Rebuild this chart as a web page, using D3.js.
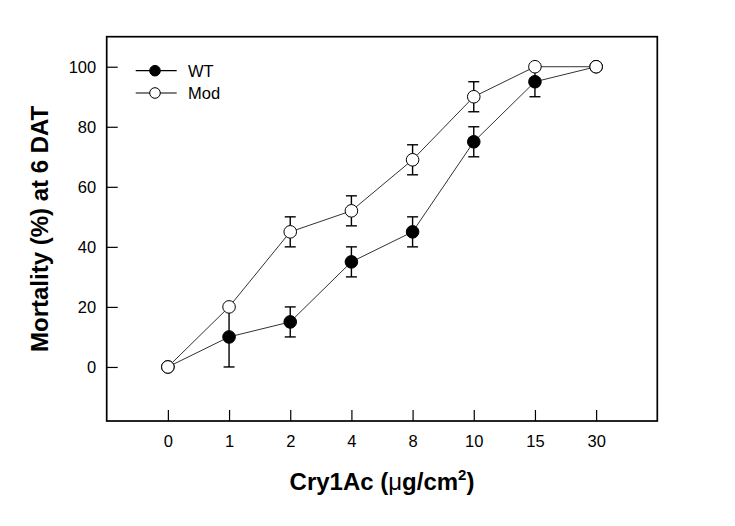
<!DOCTYPE html>
<html>
<head>
<meta charset="utf-8">
<script src="https://cdn.jsdelivr.net/npm/d3@7"></script>
<style>
  body { margin: 0; background: #fff; }
  text { font-family: "Liberation Sans", Arial, sans-serif; fill: #000; }
</style>
</head>
<body>
<div id="chart"></div>
<script>
// doses on the x axis (categorical, evenly spaced)
var doses = ["0", "1", "2", "4", "8", "10", "15", "30"];
var wt = [0, 10, 15, 35, 45, 75, 95, 100];
var wtErr = [0, 10, 5, 5, 5, 5, 5, 0];
var mod = [0, 20, 45, 52, 69, 90, 100, 100];
var modErr = [0, 0, 5, 5, 5, 5, 0, 0];
var yTicks = [0, 20, 40, 60, 80, 100];

var width = 735, height = 526;
var mLeft = 106.7, mRight = 657.3, mTop = 36.7, mBottom = 421;

var svg = d3.select("#chart").append("svg")
    .attr("width", width)
    .attr("height", height);

var x = d3.scalePoint()
    .domain(doses)
    .range([mLeft, mRight])
    .padding(1);

var y = d3.scaleLinear()
    .domain([-18, 110])
    .range([mBottom, mTop]);

// axes, ticks pointing inward
var xAxis = svg.append("g")
    .attr("transform", "translate(0," + mBottom + ")")
    .call(d3.axisBottom(x).tickSizeInner(-11).tickSizeOuter(0).tickPadding(14));

var yAxis = svg.append("g")
    .attr("transform", "translate(" + mLeft + ",0)")
    .call(d3.axisLeft(y).tickValues(yTicks).tickSizeInner(-11).tickSizeOuter(0).tickPadding(10.5));

[xAxis, yAxis].forEach(function(g) {
    g.select(".domain").remove();
    g.selectAll(".tick line").attr("stroke", "#000").attr("stroke-width", 1.2);
    g.selectAll(".tick text")
        .attr("font-family", "Liberation Sans, Arial, sans-serif")
        .attr("font-size", 16.5)
        .attr("fill", "#000");
});

// frame
svg.append("rect")
    .attr("x", mLeft).attr("y", mTop)
    .attr("width", mRight - mLeft).attr("height", mBottom - mTop)
    .attr("fill", "none")
    .attr("stroke", "#000")
    .attr("stroke-width", 1.7);

var line = d3.line()
    .x(function(d, i) { return x(doses[i]); })
    .y(function(d) { return y(d); });

function drawSeries(vals, errs, fill) {
    svg.append("path")
        .datum(vals)
        .attr("d", line)
        .attr("fill", "none")
        .attr("stroke", "#333")
        .attr("stroke-width", 1);

    var eb = svg.append("g").attr("stroke", "#000").attr("stroke-width", 1.4);
    vals.forEach(function(v, i) {
        if (!errs[i]) return;
        var cx = x(doses[i]);
        eb.append("line").attr("x1", cx).attr("x2", cx).attr("y1", y(v - errs[i])).attr("y2", y(v + errs[i]));
        [v - errs[i], v + errs[i]].forEach(function(e) {
            eb.append("line").attr("x1", cx - 5.5).attr("x2", cx + 5.5).attr("y1", y(e)).attr("y2", y(e));
        });
    });

    svg.append("g").selectAll("circle")
        .data(vals)
        .enter().append("circle")
        .attr("cx", function(d, i) { return x(doses[i]); })
        .attr("cy", function(d) { return y(d); })
        .attr("r", 6.3)
        .attr("fill", fill)
        .attr("stroke", "#000")
        .attr("stroke-width", 1);
}

drawSeries(wt, wtErr, "#000");
drawSeries(mod, modErr, "#fff");

// legend
var legend = [{name: "WT", fill: "#000", y: 70.7}, {name: "Mod", fill: "#fff", y: 93}];
legend.forEach(function(l) {
    svg.append("line")
        .attr("x1", 135.7).attr("x2", 176.7)
        .attr("y1", l.y).attr("y2", l.y)
        .attr("stroke", "#000").attr("stroke-width", 1.2);
    svg.append("circle")
        .attr("cx", 155).attr("cy", l.y).attr("r", 5.3)
        .attr("fill", l.fill).attr("stroke", "#000").attr("stroke-width", 1);
    svg.append("text")
        .attr("x", 188).attr("y", l.y)
        .attr("dy", "0.36em")
        .attr("font-size", 16.5)
        .text(l.name);
});

// axis titles
svg.append("text")
    .attr("transform", "translate(48," + ((mTop + mBottom) / 2) + ") rotate(-90)")
    .attr("text-anchor", "middle")
    .attr("font-size", 24)
    .attr("font-weight", "bold")
    .text("Mortality (%) at 6 DAT");

var xt = svg.append("text")
    .attr("x", (mLeft + mRight) / 2)
    .attr("y", 490)
    .attr("text-anchor", "middle")
    .attr("font-size", 24)
    .attr("font-weight", "bold");
xt.append("tspan").text("Cry1Ac (");
xt.append("tspan").attr("font-weight", "normal").text("\u03bc");
xt.append("tspan").text("g/cm");
xt.append("tspan").attr("font-size", 15).attr("dy", -10).text("2");
xt.append("tspan").attr("dy", 10).text(")");
</script>
</body>
</html>
